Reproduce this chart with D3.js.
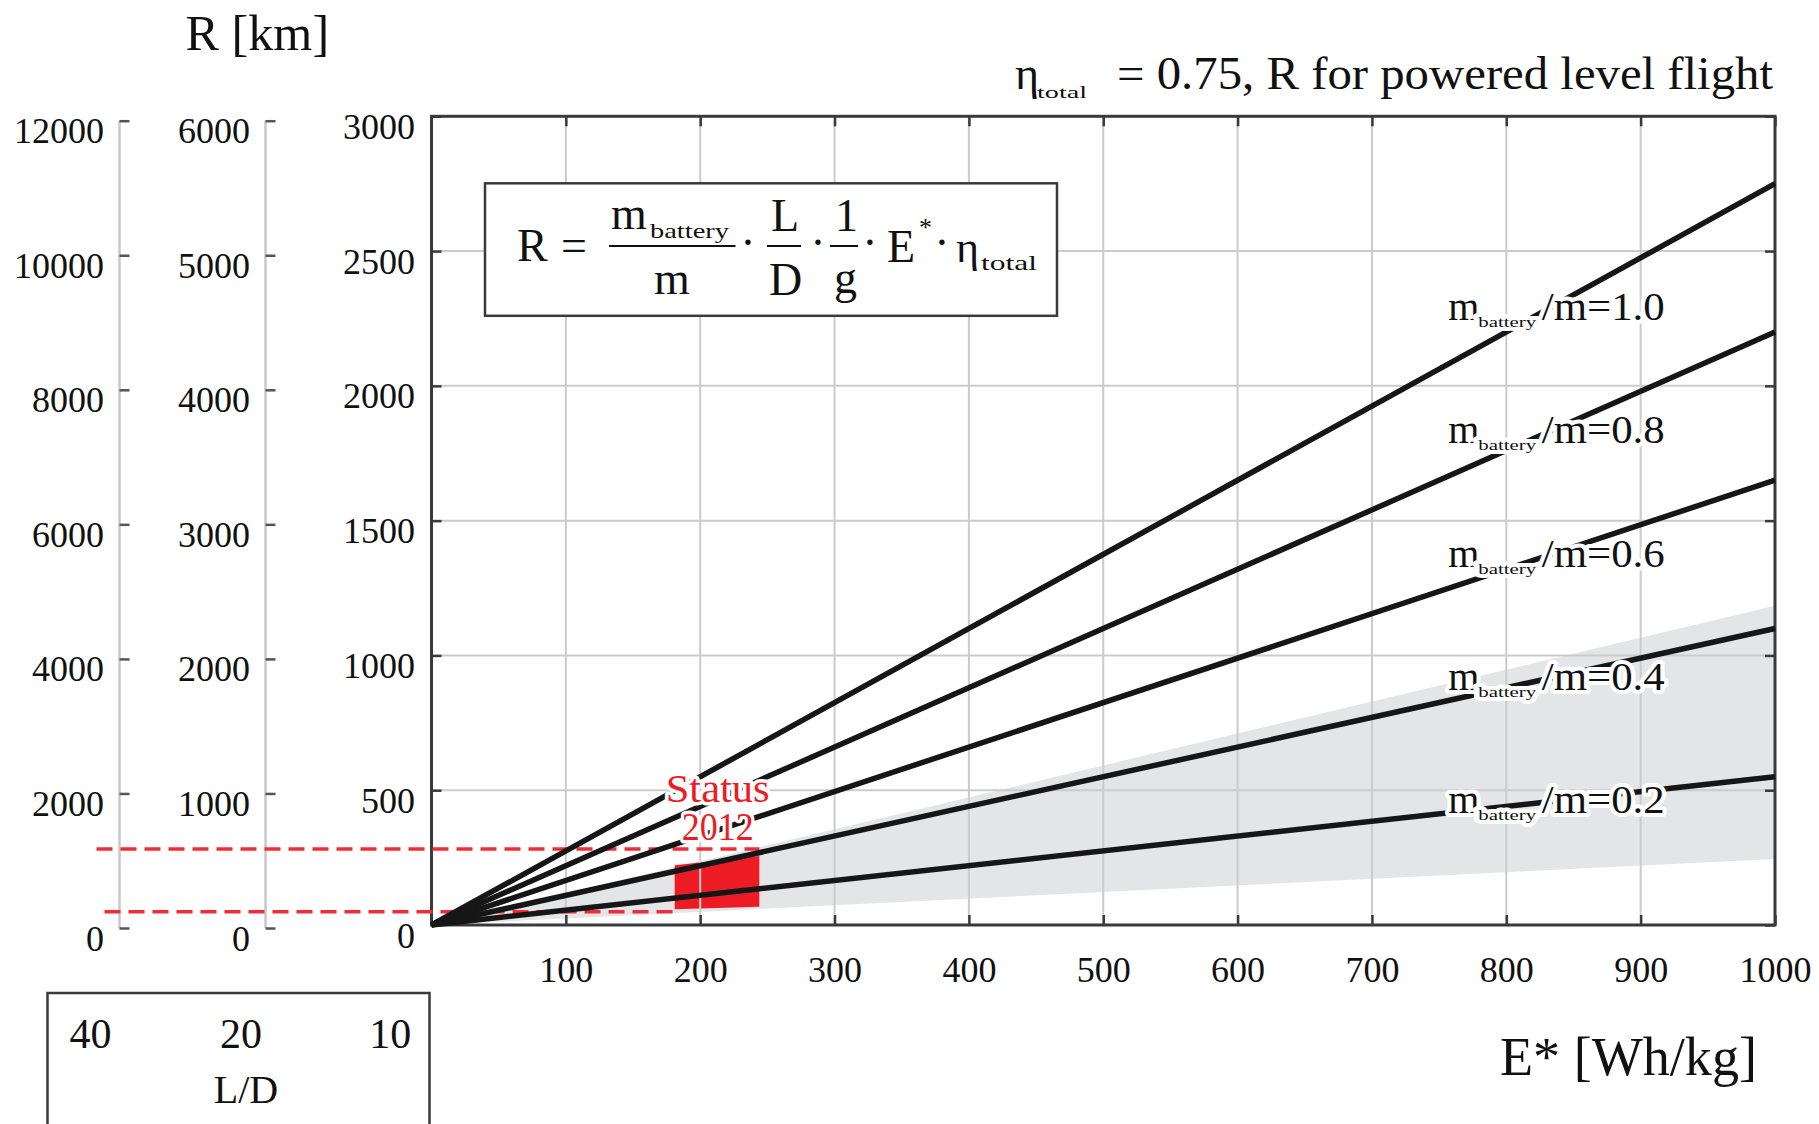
<!DOCTYPE html>
<html><head><meta charset="utf-8">
<script src="https://cdn.jsdelivr.net/npm/d3@7"></script>
<style>
html,body{margin:0;padding:0;background:#fff;}
svg{display:block;font-family:"Liberation Serif","Times New Roman",serif;}
</style></head><body>
<svg id="chart" width="1819" height="1124"></svg>
<script>
// ---------------- data ----------------
const energyTicks = [100, 200, 300, 400, 500, 600, 700, 800, 900, 1000];   // E* [Wh/kg]
const rangeTicksLD10 = [0, 500, 1000, 1500, 2000, 2500, 3000];             // R [km], L/D = 10
const rangeTicksLD20 = [0, 1000, 2000, 3000, 4000, 5000, 6000];            // R [km], L/D = 20
const rangeTicksLD40 = [0, 2000, 4000, 6000, 8000, 10000, 12000];          // R [km], L/D = 40
const ldLabels = ["40", "20", "10"];
const massRatios = ["1.0", "0.8", "0.6", "0.4", "0.2"];
const lineEnergy = [0, 1000];
const rangeAtStart = [0, 0, 0, 0, 0];
const rangeAtEnd = [2750, 2200, 1650, 1100, 550];
const bandEnergy = [0, 1000];
const bandUpper = [0, 1184];
const bandLower = [0, 245];
const statusEnergy = [181, 244];
const statusUpper = [222, 256];
const statusLower = [58, 68];
const statusRangeBounds = [49, 282];

// ---------------- layout ----------------
const plot = {left: 431.5, right: 1775, top: 116.3, bottom: 925};
const auxX = [119.5, 265.5];
const tickFont = 36;
const ink = "#111";
const frameColor = "#3a3a3a";
const red = "#ed1c24";
const fmt = d3.format("d");

const svg = d3.select("#chart");
svg.append("rect").attr("width", 1819).attr("height", 1124).attr("fill", "#fff");

const x = d3.scaleLinear().domain([0, 1000]).range([plot.left, plot.right]);
const y = d3.scaleLinear().domain([0, 3000]).range([plot.bottom, plot.top]);

// gray band
const area = d3.area().x(d => x(d.e)).y0(d => y(d.lo)).y1(d => y(d.hi));
svg.append("path")
  .datum(bandEnergy.map((e, i) => ({e, lo: bandLower[i], hi: bandUpper[i]})))
  .attr("d", area).attr("fill", "#e4e5e7");

// status 2012 region
svg.append("path")
  .datum(statusEnergy.map((e, i) => ({e, lo: statusLower[i], hi: statusUpper[i]})))
  .attr("d", area).attr("fill", red);

// grid
const grid = svg.append("g").attr("stroke", "#cbcbcb").attr("stroke-width", 2);
grid.selectAll("line.v").data(energyTicks.filter(v => v < 1000)).join("line")
  .attr("x1", d => x(d)).attr("x2", d => x(d)).attr("y1", y(0)).attr("y2", y(3000));
grid.selectAll("line.h").data(rangeTicksLD10.filter(v => v > 0 && v < 3000)).join("line")
  .attr("x1", x(0)).attr("x2", x(1000)).attr("y1", d => y(d)).attr("y2", d => y(d));

// frame axes
function styleAxis(g) {
  g.select(".domain").remove();
  g.selectAll(".tick line").attr("stroke", frameColor).attr("stroke-width", 2.5);
  g.selectAll(".tick text").attr("font-size", tickFont).attr("fill", ink)
    .attr("font-family", "Liberation Serif, serif");
}
const gx = svg.append("g").attr("transform", `translate(0,${plot.bottom})`)
  .call(d3.axisBottom(x).tickValues(energyTicks).tickFormat(fmt).tickSizeInner(-10).tickSizeOuter(0))
  .call(styleAxis);
gx.selectAll(".tick text").attr("y", 57).attr("dy", null);

svg.append("g").attr("transform", `translate(0,${plot.top})`)
  .call(d3.axisTop(x).tickValues(energyTicks).tickFormat("").tickSizeInner(-10).tickSizeOuter(0))
  .call(styleAxis);

const gy = svg.append("g").attr("transform", `translate(${plot.left},0)`)
  .call(d3.axisLeft(y).tickValues(rangeTicksLD10).tickFormat(fmt).tickSizeInner(-10).tickSizeOuter(0).tickPadding(16.5))
  .call(styleAxis);
gy.selectAll(".tick text").attr("y", 22).attr("dy", null);

svg.append("g").attr("transform", `translate(${plot.right},0)`)
  .call(d3.axisRight(y).tickValues(rangeTicksLD10).tickFormat("").tickSizeInner(-10).tickSizeOuter(0))
  .call(styleAxis);

svg.append("rect").attr("x", plot.left).attr("y", plot.top)
  .attr("width", plot.right - plot.left).attr("height", plot.bottom - plot.top)
  .attr("fill", "none").attr("stroke", frameColor).attr("stroke-width", 3);

// auxiliary axes (L/D = 40 and 20)
[[rangeTicksLD40, 12000], [rangeTicksLD20, 6000]].forEach(([ticks, max], i) => {
  const ya = d3.scaleLinear().domain([0, max]).range([plot.bottom + 3, plot.top + 4.4]);
  svg.append("line").attr("x1", auxX[i]).attr("x2", auxX[i])
    .attr("y1", ya(0)).attr("y2", ya(max)).attr("stroke", "#c8c8c8").attr("stroke-width", 2.5);
  const g = svg.append("g").attr("transform", `translate(${auxX[i]},0)`)
    .call(d3.axisLeft(ya).tickValues(ticks).tickFormat(fmt).tickSizeInner(-10).tickSizeOuter(0).tickPadding(15.5))
    .call(styleAxis);
  g.selectAll(".tick line").attr("stroke", "#555");
  g.selectAll(".tick text").attr("y", 22).attr("dy", null);
});

// dashed status range lines
const dashData = [
  {r: statusRangeBounds[0], x0: auxX[0] - 15, e1: statusEnergy[0]},
  {r: statusRangeBounds[1], x0: auxX[0] - 23, e1: statusEnergy[1]}
];
svg.append("g").selectAll("line").data(dashData).join("line")
  .attr("x1", d => d.x0).attr("x2", d => x(d.e1))
  .attr("y1", d => y(d.r)).attr("y2", d => y(d.r))
  .attr("stroke", "#ef2d38").attr("stroke-width", 3.5).attr("stroke-dasharray", "16,8");

// battery mass fraction lines
const line = d3.line().x(d => x(d[0])).y(d => y(d[1]));
svg.append("g").selectAll("path").data(massRatios.map((m, k) => [[lineEnergy[0], rangeAtStart[k]], [lineEnergy[1], rangeAtEnd[k]]]))
  .join("path").attr("d", line).attr("fill", "none")
  .attr("stroke", "#161616").attr("stroke-width", 5.5);

// text helper with optional white halo (single element, paint-order)
function drawPieces(layer, pieces, halo, color) {
  layer.selectAll(null).data(pieces).join("text")
    .attr("x", d => d.x).attr("y", d => d.y).attr("font-size", d => d.fs)
    .attr("fill", color)
    .attr("stroke", "#fff").attr("stroke-width", halo).attr("stroke-linejoin", "round")
    .attr("paint-order", "stroke")
    .text(d => d.t)
    .each(function(d) { if (d.len) d3.select(this).attr("textLength", d.len).attr("lengthAdjust", "spacingAndGlyphs"); });
}

// line labels
const labelE = 832;
const labelLayer = svg.append("g");
function labelPieces(k) {
  const rAt = rangeAtStart[k] + (rangeAtEnd[k] - rangeAtStart[k]) * (labelE - lineEnergy[0]) / (lineEnergy[1] - lineEnergy[0]);
  const bx = x(labelE) - 101, by = y(rAt) + 11.7;
  return [
    {t: "m", x: bx, y: by, fs: 40, len: null},
    {t: "battery", x: bx + 30, y: by + 7, fs: 15, len: 58},
    {t: "/m=" + massRatios[k], x: bx + 93.5, y: by, fs: 40, len: 123}
  ];
}
massRatios.forEach((m, k) => drawPieces(labelLayer, labelPieces(k), 8, ink));

// Status 2012 label
const statusLabelE = 213, statusLabelR = [455, 314];
const sl = svg.append("g").attr("text-anchor", "middle");
drawPieces(sl, [{t: "Status", x: x(statusLabelE), y: y(statusLabelR[0]), fs: 40, len: 104}], 7, red);
drawPieces(sl, [{t: "2012", x: x(statusLabelE), y: y(statusLabelR[1]), fs: 40, len: 72}], 7, red);

// title and axis titles
const txt = (t, xx, yy, fs, opts = {}) => {
  const e = svg.append("text").attr("x", xx).attr("y", yy).attr("font-size", fs).attr("fill", ink).text(t);
  if (opts.len) e.attr("textLength", opts.len).attr("lengthAdjust", "spacingAndGlyphs");
  if (opts.anchor) e.attr("text-anchor", opts.anchor);
  return e;
};
txt("R [km]", 185.6, 50, 50, {len: 143.5});
txt("E* [Wh/kg]", 1500, 1075, 54, {len: 257});
txt("η", 1015, 89, 46);
txt("total", 1037, 97.5, 17, {len: 50});
txt("= 0.75, R for powered level flight", 1117, 89, 46, {len: 656});

// L/D box
svg.append("rect").attr("x", 47.5).attr("y", 993).attr("width", 382).attr("height", 150)
  .attr("fill", "none").attr("stroke", frameColor).attr("stroke-width", 2.5);
const ldX = [90.6, 241, 390.3];
ldLabels.forEach((l, i) => txt(l, ldX[i], 1048, 42, {anchor: "middle"}));
txt("L/D", 246, 1103, 40, {anchor: "middle"});

// formula box
svg.append("rect").attr("x", 485).attr("y", 183.3).attr("width", 572).attr("height", 132.5)
  .attr("fill", "#fff").attr("stroke", frameColor).attr("stroke-width", 2.5);
const fs = 46;
txt("R", 517, 261, fs);
txt("=", 561, 261, fs);
txt("m", 611, 229, fs);
txt("battery", 650, 238, 21, {len: 79});
txt("m", 654, 294, fs);
txt("L", 771, 231, fs);
txt("D", 769, 295, fs);
txt("1", 835, 231, fs);
txt("g", 834, 293, fs);
txt("E", 887, 262, fs);
txt("*", 919, 236, 26);
txt("η", 956, 262, 44);
txt("total", 981, 270, 21, {len: 56});
[748, 818, 870, 942].forEach(d => txt("·", d, 258, fs, {anchor: "middle"}));
[[609, 735.5], [767, 801], [830, 858]].forEach(([a, b]) =>
  svg.append("line").attr("x1", a).attr("x2", b).attr("y1", 246).attr("y2", 246)
    .attr("stroke", ink).attr("stroke-width", 2));
</script>
</body></html>
